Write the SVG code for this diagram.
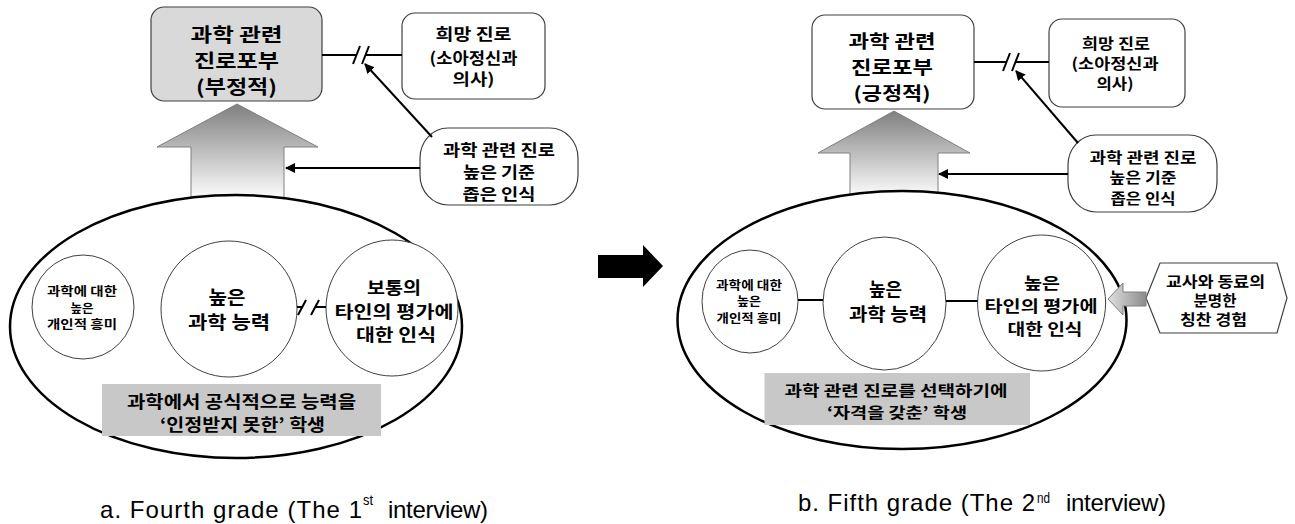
<svg xmlns="http://www.w3.org/2000/svg" width="1295" height="524" viewBox="0 0 1295 524">
<defs>
<style>
.k{font-family:'Noto Sans CJK KR','Noto Sans',sans-serif;font-weight:bold;text-anchor:middle;dominant-baseline:central;fill:#000}
.cap{font-family:'Liberation Sans',Arial,sans-serif;font-size:24px;fill:#000}
.sup{font-family:'Liberation Sans',Arial,sans-serif;font-size:14px;fill:#000}
.box{stroke:#404040;stroke-width:1.2}
.conn{stroke:#000;stroke-width:2;fill:none}
.big{fill:#fff;stroke:#000;stroke-width:2.5}
.circ{fill:#fff;stroke:#404040;stroke-width:1}
.lbl{fill:#c8c8c8}
</style>
<linearGradient id="upGrad" x1="0" y1="0" x2="0" y2="1">
<stop offset="0" stop-color="#7f7f7f"/>
<stop offset="1" stop-color="#ffffff"/>
</linearGradient>
<linearGradient id="leftGrad" x1="0" y1="0" x2="1" y2="0">
<stop offset="0" stop-color="#e0e0e0"/>
<stop offset="1" stop-color="#8c8c8c"/>
</linearGradient>
<marker id="ah" viewBox="0 0 10 10" refX="9" refY="5" markerWidth="5" markerHeight="5" orient="auto" markerUnits="strokeWidth">
<path d="M0,0 L10,5 L0,10 z" fill="#000"/>
</marker>
</defs>
<rect width="1295" height="524" fill="#fff"/>

<!-- ===== Panel a ===== -->
<g id="a-uparrow">
<polygon points="237,104 318,147 284,147 284,200 191,200 191,147 157,147" fill="url(#upGrad)" stroke="#808080" stroke-width="1"/>
</g>
<g id="a-ellipse">
<ellipse cx="236" cy="326.5" rx="226" ry="131.5" class="big"/>
</g>
<g id="a-goal">
<rect x="151" y="7" width="171" height="94" rx="13" fill="#d9d9d9" class="box"/>
<text class="k" x="236.5" y="33" font-size="19" textLength="92" lengthAdjust="spacingAndGlyphs">과학 관련</text>
<text class="k" x="236.5" y="59" font-size="19" textLength="85" lengthAdjust="spacingAndGlyphs">진로포부</text>
<text class="k" x="236.5" y="85" font-size="19" textLength="81" lengthAdjust="spacingAndGlyphs">(부정적)</text>
</g>
<g id="a-hope">
<rect x="402" y="13" width="143" height="86" rx="13" fill="#fff" class="box"/>
<text class="k" x="473.5" y="33" font-size="16" textLength="76" lengthAdjust="spacingAndGlyphs">희망 진로</text>
<text class="k" x="473.5" y="56.5" font-size="16" textLength="88" lengthAdjust="spacingAndGlyphs">(소아정신과</text>
<text class="k" x="473.5" y="78" font-size="16" textLength="42" lengthAdjust="spacingAndGlyphs">의사)</text>
</g>
<g id="a-standard">
<rect x="420" y="128" width="158" height="77" rx="28" ry="30" fill="#fff" class="box"/>
<text class="k" x="499" y="149" font-size="16" textLength="112" lengthAdjust="spacingAndGlyphs">과학 관련 진로</text>
<text class="k" x="499" y="171" font-size="16" textLength="72" lengthAdjust="spacingAndGlyphs">높은 기준</text>
<text class="k" x="499" y="193" font-size="16" textLength="73" lengthAdjust="spacingAndGlyphs">좁은 인식</text>
</g>
<g id="a-interest">
<ellipse cx="83" cy="307" rx="51" ry="52" class="circ"/>
<text class="k" x="82" y="290.5" font-size="12" textLength="70" lengthAdjust="spacingAndGlyphs">과학에 대한</text>
<text class="k" x="82" y="307" font-size="12" textLength="23" lengthAdjust="spacingAndGlyphs">높은</text>
<text class="k" x="82" y="323" font-size="12" textLength="70" lengthAdjust="spacingAndGlyphs">개인적 흥미</text>
</g>
<g id="a-ability">
<ellipse cx="229" cy="309" rx="68" ry="68" class="circ"/>
<text class="k" x="227" y="295.5" font-size="18" textLength="37" lengthAdjust="spacingAndGlyphs">높은</text>
<text class="k" x="229" y="320.5" font-size="18" textLength="82" lengthAdjust="spacingAndGlyphs">과학 능력</text>
</g>
<g id="a-recognition">
<ellipse cx="392" cy="308" rx="66" ry="68" class="circ"/>
<text class="k" x="394" y="286.5" font-size="17" textLength="54" lengthAdjust="spacingAndGlyphs">보통의</text>
<text class="k" x="394" y="310" font-size="17" textLength="119" lengthAdjust="spacingAndGlyphs">타인의 평가에</text>
<text class="k" x="396" y="333.5" font-size="17" textLength="80" lengthAdjust="spacingAndGlyphs">대한 인식</text>
</g>
<g id="a-label">
<rect x="102" y="384" width="279" height="52" class="lbl"/>
<text class="k" x="241.5" y="400.5" font-size="17" textLength="229" lengthAdjust="spacingAndGlyphs">과학에서 공식적으로 능력을</text>
<text class="k" x="242.5" y="423" font-size="17" textLength="165" lengthAdjust="spacingAndGlyphs">‘인정받지 못한’ 학생</text>
</g>
<g id="a-caption">
<text class="cap" x="100" y="518" textLength="262" lengthAdjust="spacing">a. Fourth grade (The 1</text>
<text class="sup" x="363" y="505" textLength="10" lengthAdjust="spacingAndGlyphs">st</text>
<text class="cap" x="388" y="518" textLength="100" lengthAdjust="spacing">interview)</text>
</g>

<!-- ===== Middle arrow ===== -->
<g id="transition-arrow">
<polygon points="598,255 643,255 643,245 663,266 643,287 643,278 598,278" fill="#000"/>
</g>

<!-- ===== Panel b ===== -->
<g id="b-uparrow">
<polygon points="894,111 970,153 938,153 938,198 850,198 850,153 818,153" fill="url(#upGrad)" stroke="#808080" stroke-width="1"/>
</g>
<g id="b-ellipse">
<ellipse cx="902" cy="320" rx="224.5" ry="129" class="big"/>
</g>
<g id="b-goal">
<rect x="812" y="15" width="162" height="94" rx="13" fill="#fff" class="box"/>
<text class="k" x="892" y="40" font-size="18" textLength="87" lengthAdjust="spacingAndGlyphs">과학 관련</text>
<text class="k" x="892" y="65.5" font-size="18" textLength="82" lengthAdjust="spacingAndGlyphs">진로포부</text>
<text class="k" x="892" y="92" font-size="18" textLength="77" lengthAdjust="spacingAndGlyphs">(긍정적)</text>
</g>
<g id="b-hope">
<rect x="1049" y="19" width="136" height="88" rx="13" fill="#fff" class="box"/>
<text class="k" x="1116" y="42.5" font-size="15" textLength="68" lengthAdjust="spacingAndGlyphs">희망 진로</text>
<text class="k" x="1115" y="62.5" font-size="15" textLength="87" lengthAdjust="spacingAndGlyphs">(소아정신과</text>
<text class="k" x="1115" y="82.5" font-size="15" textLength="37" lengthAdjust="spacingAndGlyphs">의사)</text>
</g>
<g id="b-standard">
<rect x="1068" y="135" width="149" height="77" rx="28" ry="30" fill="#fff" class="box"/>
<text class="k" x="1143" y="156" font-size="15" textLength="107" lengthAdjust="spacingAndGlyphs">과학 관련 진로</text>
<text class="k" x="1143" y="176.5" font-size="15" textLength="67" lengthAdjust="spacingAndGlyphs">높은 기준</text>
<text class="k" x="1143" y="197" font-size="15" textLength="65" lengthAdjust="spacingAndGlyphs">좁은 인식</text>
</g>
<g id="b-interest">
<ellipse cx="750" cy="301.5" rx="48" ry="51.5" class="circ"/>
<text class="k" x="749" y="284" font-size="12" textLength="66" lengthAdjust="spacingAndGlyphs">과학에 대한</text>
<text class="k" x="749" y="300.5" font-size="12" textLength="24" lengthAdjust="spacingAndGlyphs">높은</text>
<text class="k" x="749" y="317" font-size="12" textLength="65" lengthAdjust="spacingAndGlyphs">개인적 흥미</text>
</g>
<g id="b-ability">
<ellipse cx="884.5" cy="303.5" rx="61.5" ry="66.5" class="circ"/>
<text class="k" x="885.5" y="288" font-size="18" textLength="33" lengthAdjust="spacingAndGlyphs">높은</text>
<text class="k" x="888" y="313" font-size="18" textLength="78" lengthAdjust="spacingAndGlyphs">과학 능력</text>
</g>
<g id="b-recognition">
<ellipse cx="1041.6" cy="303" rx="64" ry="68" class="circ"/>
<text class="k" x="1042" y="282" font-size="16" textLength="36" lengthAdjust="spacingAndGlyphs">높은</text>
<text class="k" x="1041" y="305" font-size="16" textLength="113" lengthAdjust="spacingAndGlyphs">타인의 평가에</text>
<text class="k" x="1045" y="328" font-size="16" textLength="75" lengthAdjust="spacingAndGlyphs">대한 인식</text>
</g>
<g id="b-label">
<rect x="764.5" y="373" width="265.5" height="52" class="lbl"/>
<text class="k" x="896" y="389.5" font-size="15" textLength="223" lengthAdjust="spacingAndGlyphs">과학 관련 진로를 선택하기에</text>
<text class="k" x="897" y="411.5" font-size="15" textLength="140" lengthAdjust="spacingAndGlyphs">‘자격을 갖춘’ 학생</text>
</g>
<g id="b-praise">
<polygon points="1146,298 1160,263 1277,263 1287,298 1277,333 1160,333" fill="#fff" stroke="#404040" stroke-width="1.2"/>
<text class="k" x="1215.5" y="280.5" font-size="15" textLength="99" lengthAdjust="spacingAndGlyphs">교사와 동료의</text>
<text class="k" x="1215" y="299.5" font-size="15" textLength="43" lengthAdjust="spacingAndGlyphs">분명한</text>
<text class="k" x="1213.5" y="318.5" font-size="15" textLength="67" lengthAdjust="spacingAndGlyphs">칭찬 경험</text>
</g>
<g id="b-caption">
<text class="cap" x="798" y="511" textLength="237" lengthAdjust="spacing">b. Fifth grade (The 2</text>
<text class="sup" x="1037" y="503" textLength="13" lengthAdjust="spacingAndGlyphs">nd</text>
<text class="cap" x="1066" y="511" textLength="100" lengthAdjust="spacing">interview)</text>
</g>

<!-- ===== Connectors ===== -->
<g id="connectors">
<!-- panel a -->
<line x1="322" y1="55" x2="356" y2="55" class="conn"/>
<line x1="353" y1="64" x2="360" y2="46" class="conn"/>
<line x1="362" y1="64" x2="369" y2="46" class="conn"/>
<line x1="366" y1="55" x2="402" y2="55" class="conn"/>
<line x1="432" y1="137" x2="365" y2="64" class="conn" marker-end="url(#ah)"/>
<line x1="420" y1="168" x2="286" y2="168" class="conn" marker-end="url(#ah)"/>
<line x1="297" y1="307" x2="303" y2="307" class="conn"/>
<line x1="298" y1="315" x2="306" y2="300" class="conn"/>
<line x1="311" y1="315" x2="319" y2="300" class="conn"/>
<line x1="316" y1="307" x2="326" y2="307" class="conn"/>
<!-- panel b -->
<line x1="974" y1="62" x2="1006" y2="62" class="conn"/>
<line x1="1003" y1="71" x2="1010" y2="53" class="conn"/>
<line x1="1012" y1="71" x2="1019" y2="53" class="conn"/>
<line x1="1016" y1="62" x2="1049" y2="62" class="conn"/>
<line x1="1078" y1="143" x2="1016" y2="71" class="conn" marker-end="url(#ah)"/>
<line x1="1068" y1="174" x2="939" y2="174" class="conn" marker-end="url(#ah)"/>
<line x1="798" y1="300" x2="823" y2="300" class="conn"/>
<line x1="946" y1="301" x2="977.5" y2="301" class="conn"/>
<polygon points="1108,299 1123,283 1123,292 1146,292 1146,306 1123,306 1123,315" fill="url(#leftGrad)" stroke="#808080" stroke-width="1"/>
</g>
</svg>
